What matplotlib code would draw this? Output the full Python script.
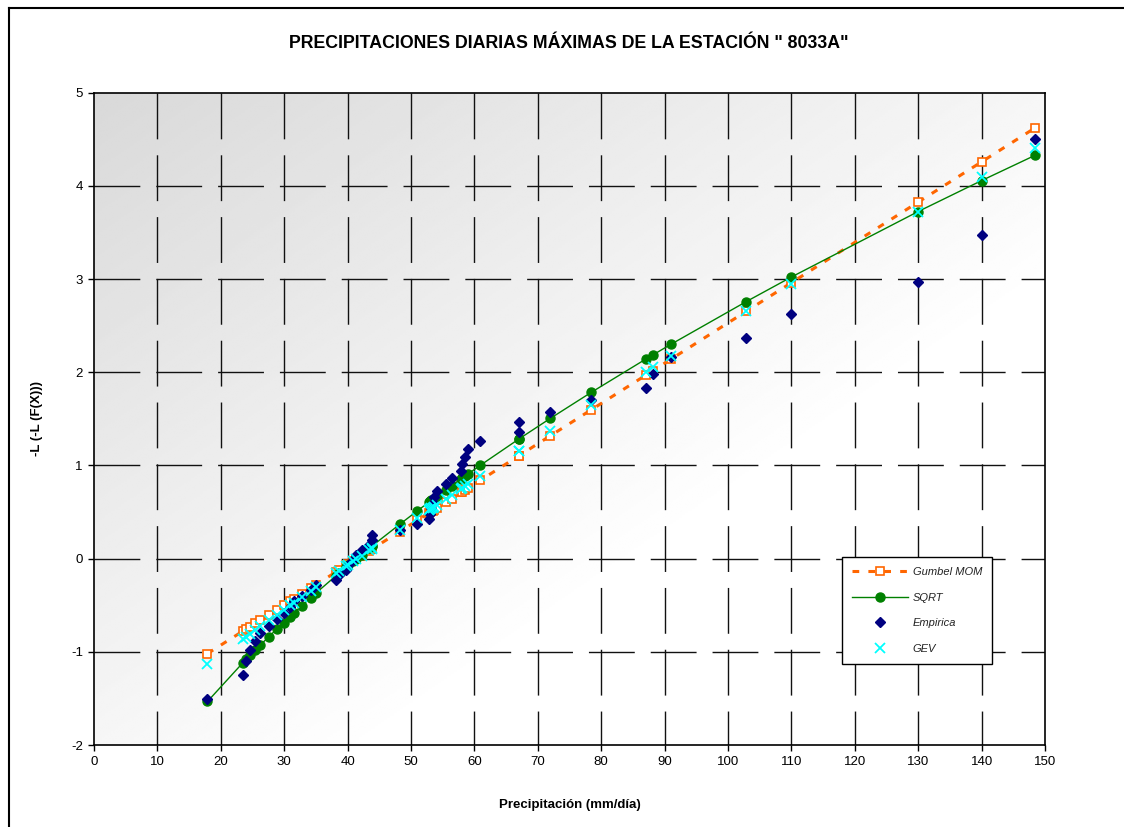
import numpy as np
import matplotlib
matplotlib.use("Agg")
import matplotlib.pyplot as plt
from matplotlib.lines import Line2D

plt.rcParams['font.family'] = ['Liberation Sans', 'DejaVu Sans']
plt.rcParams['axes.unicode_minus'] = False

# Precipitation (mm/day), sorted
precip = [17.9, 23.5, 24.0, 24.6, 25.4, 26.2, 27.6, 28.8, 29.9, 30.9,
          31.5, 32.8, 34.2, 35.0, 38.2, 38.6, 39.8, 40.1, 40.9, 41.4,
          42.2, 43.4, 43.8, 43.9, 48.2, 51.0, 52.9, 53.0, 53.2, 53.4,
          53.6, 54.1, 55.5, 56.4, 57.9, 58.0, 58.5, 59.0, 60.9, 67.0,
          67.0, 72.0, 78.4, 87.0, 88.1, 91.0, 102.9, 110.0, 130.0, 140.0,
          148.4]

# -L(-L(F(X))) for each fitted law and the empirical plotting positions
gumbel = [-1.019, -0.777, -0.755, -0.730, -0.695, -0.660, -0.600, -0.548, -0.500, -0.457,
          -0.431, -0.375, -0.315, -0.280, -0.142, -0.124, -0.073, -0.060, -0.025, -0.003,
          0.031, 0.083, 0.100, 0.105, 0.290, 0.411, 0.494, 0.498, 0.507, 0.515,
          0.524, 0.545, 0.606, 0.645, 0.710, 0.714, 0.736, 0.757, 0.839, 1.103,
          1.103, 1.319, 1.596, 1.967, 2.015, 2.140, 2.655, 2.961, 3.826, 4.258,
          4.621]

sqrt_et = [-1.533, -1.116, -1.082, -1.039, -0.984, -0.930, -0.836, -0.758, -0.686, -0.623,
           -0.585, -0.504, -0.419, -0.370, -0.182, -0.159, -0.090, -0.073, -0.028, 0.000,
           0.044, 0.111, 0.132, 0.138, 0.367, 0.513, 0.609, 0.615, 0.624, 0.634,
           0.644, 0.669, 0.739, 0.783, 0.856, 0.861, 0.885, 0.909, 1.000, 1.283,
           1.283, 1.506, 1.783, 2.140, 2.184, 2.300, 2.759, 3.022, 3.725, 4.057,
           4.327]

empirica = [-1.507, -1.250, -1.097, -0.980, -0.883, -0.797, -0.719, -0.648, -0.581, -0.517,
            -0.456, -0.397, -0.339, -0.283, -0.228, -0.174, -0.120, -0.066, -0.013, 0.040,
            0.093, 0.147, 0.201, 0.255, 0.311, 0.367, 0.424, 0.482, 0.541, 0.602,
            0.665, 0.729, 0.796, 0.866, 0.938, 1.014, 1.093, 1.177, 1.266, 1.361,
            1.464, 1.575, 1.697, 1.833, 1.986, 2.162, 2.370, 2.628, 2.969, 3.474,
            4.508]

gev = [-1.136, -0.860, -0.836, -0.806, -0.767, -0.728, -0.661, -0.603, -0.550, -0.502,
       -0.473, -0.411, -0.344, -0.306, -0.155, -0.136, -0.080, -0.066, -0.028, -0.005,
       0.033, 0.088, 0.107, 0.111, 0.310, 0.438, 0.524, 0.529, 0.538, 0.547,
       0.556, 0.578, 0.641, 0.682, 0.749, 0.754, 0.776, 0.798, 0.883, 1.152,
       1.152, 1.370, 1.645, 2.008, 2.053, 2.174, 2.660, 2.944, 3.721, 4.097,
       4.407]

x_ticks = list(range(0, 151, 10))
y_ticks = list(range(-2, 6))

fig = plt.figure(figsize=(11.24, 8.27), dpi=100)
ax = fig.add_axes([94/1124, 1 - 745/827, (1045 - 94)/1124, (745 - 92.7)/827])

# background gradient (dark top-left -> white)
u, v = np.meshgrid(np.linspace(0, 1, 300), np.linspace(0, 1, 300))
shade = 0.85 + 0.15*np.clip((u + v)/1.3, 0, 1)
ax.imshow(shade, cmap='gray', vmin=0, vmax=1, extent=[0, 1, 0, 1],
          transform=ax.transAxes, aspect='auto', zorder=0, origin='upper',
          interpolation='bilinear')

ax.set_xlim(0, 150)
ax.set_ylim(-2, 5)

# dashed grid, vertical lines drawn from the top
for xt in x_ticks[1:-1]:
    ax.plot([xt, xt], [5, -2], color='#111111', lw=1.0, dashes=(33, 11.5), zorder=1)
for yt in y_ticks[1:-1]:
    ax.plot([0, 150], [yt, yt], color='#111111', lw=1.0, dashes=(33, 11.5), zorder=1)

ax.plot(precip, gumbel, color='#FF6600', lw=2.2, linestyle=(0, (2.2, 3.0)),
        marker='s', ms=6, mfc='white', mec='#FF6600', mew=1.2, label='Gumbel MOM', zorder=3)
ax.plot(precip, sqrt_et, color='#008000', lw=1.0, marker='o', ms=6.5,
        mfc='#008000', mec='#008000', label='SQRT', zorder=4)
ax.plot(precip, empirica, linestyle='none', marker='D', ms=5.5,
        mfc='#000080', mec='#000080', label='Empirica', zorder=5)
ax.plot(precip, gev, linestyle='none', marker='x', ms=7, mew=1.3,
        color='#00FFFF', label='GEV', zorder=6)

ax.set_xticks(x_ticks)
ax.set_yticks(y_ticks)
ax.tick_params(direction='out', length=4, width=1, labelsize=9.5, pad=4)
for sp in ax.spines.values():
    sp.set_linewidth(1.2)
    sp.set_color('black')
    sp.set_zorder(7)

ax.set_xlabel('Precipitación (mm/día)', fontsize=9.5, fontweight='bold', labelpad=22)
ax.set_ylabel('-L (-L (F(X)))', fontsize=9.5, fontweight='bold', labelpad=20)

fig.text(569/1124, 1 - 44/827, 'PRECIPITACIONES DIARIAS MÁXIMAS DE LA ESTACIÓN " 8033A"',
         ha='center', va='center', fontsize=12.8, fontweight='bold')

leg = ax.legend(loc='upper left', bbox_to_anchor=(0.7865, 0.288), frameon=True,
                fancybox=False, edgecolor='black', framealpha=1, borderaxespad=0,
                prop={'style': 'italic', 'size': 8}, handlelength=5.0,
                handletextpad=0.45, labelspacing=1.4, borderpad=0.9)
leg.get_frame().set_linewidth(1.0)
for t in leg.get_texts():
    t.set_color('#222222')
leg.set_zorder(8)

# chart area border
fig.add_artist(Line2D([9/1124, 9/1124], [0, 1 - 8/827], transform=fig.transFigure,
                      color='black', lw=1.5))
fig.add_artist(Line2D([9/1124, 1], [1 - 8/827, 1 - 8/827], transform=fig.transFigure,
                      color='black', lw=1.5))

fig.savefig('out.png', dpi=100)
